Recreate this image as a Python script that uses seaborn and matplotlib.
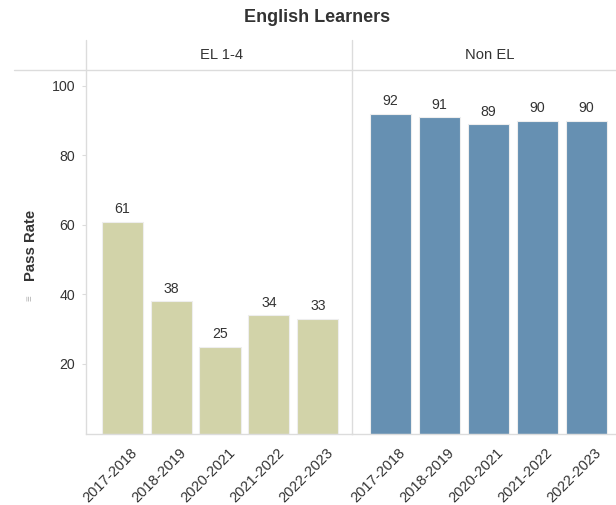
import matplotlib
matplotlib.use("Agg")
import matplotlib.pyplot as plt
from matplotlib.lines import Line2D
import matplotlib.transforms as mtrans
import seaborn as sns
import pandas as pd

# Pass rates by school year for English Learner groups
years = ["2017-2018", "2018-2019", "2020-2021", "2021-2022", "2022-2023"]
groups = ["EL 1-4", "Non EL"]
el_rates = [61, 38, 25, 34, 33]
non_el_rates = [92, 91, 89, 90, 90]
yticks = [20, 40, 60, 80, 100]

colors = {"EL 1-4": "#d2d3a9", "Non EL": "#6690b2"}
rates = {"EL 1-4": el_rates, "Non EL": non_el_rates}

sns.set_theme(style="white")
plt.rcParams["font.family"] = ["Liberation Sans", "DejaVu Sans"]

W, H = 616, 505
fig = plt.figure(figsize=(W / 100, H / 100), dpi=100)

def fx(px):
    return px / W

def fy(py):
    return 1 - py / H

grid_color = "#dcdcdc"
text_color = "#333333"

# panel extents in pixels: (left, right) and header centre
panels = {"EL 1-4": (86, 352), "Non EL": (352, 616)}
header_x = {"EL 1-4": 221, "Non EL": 490}
xlims = {"EL 1-4": (-0.74, 4.70), "Non EL": (-0.78, 4.61)}
top_px, bottom_px = 70, 433.5

for g in groups:
    l, r = panels[g]
    ax = fig.add_axes([fx(l), fy(bottom_px), fx(r - l), (bottom_px - top_px) / H])
    df = pd.DataFrame({"year": years, "rate": rates[g]})
    sns.barplot(data=df, x="year", y="rate", color=colors[g], saturation=1,
                width=0.84, edgecolor="#eeeeee", linewidth=0.8, ax=ax)
    ax.set_xlim(*xlims[g])
    ax.set_ylim(0, 104.6)
    for c in ax.containers:
        ax.bar_label(c, labels=[str(v) for v in rates[g]], padding=4,
                     fontsize=10.2, color=text_color)
    ax.set_xlabel("")
    ax.set_ylabel("")
    for s in ["top", "right", "left"]:
        ax.spines[s].set_visible(False)
    ax.spines["bottom"].set_color(grid_color)
    ax.spines["bottom"].set_linewidth(1)
    ax.tick_params(axis="x", length=0, pad=9, labelsize=10.5, labelcolor=text_color)
    shift = mtrans.ScaledTranslation(8 / 100, 0, fig.dpi_scale_trans)
    for lab in ax.get_xticklabels():
        lab.set_rotation(45)
        lab.set_ha("right")
        lab.set_rotation_mode("anchor")
        lab.set_transform(lab.get_transform() + shift)
    if g == "EL 1-4":
        ax.set_yticks(yticks)
        ax.set_yticklabels([str(t) for t in yticks])
        ax.tick_params(axis="y", length=3, width=0.8, color=grid_color, pad=5,
                       labelsize=10.2, labelcolor=text_color, left=True)
    else:
        ax.set_yticks([])
    ax.set_facecolor("none")
    # panel header
    fig.text(fx(header_x[g]), fy(55), g, ha="center", va="center",
             fontsize=10.6, color=text_color)

# frame lines: header separator and panel dividers
fig.add_artist(Line2D([fx(14), fx(616)], [fy(70), fy(70)], color=grid_color, lw=1))
fig.add_artist(Line2D([fx(86), fx(86)], [fy(40), fy(bottom_px)], color=grid_color, lw=1))
fig.add_artist(Line2D([fx(352), fx(352)], [fy(40), fy(bottom_px)], color=grid_color, lw=1))

fig.text(fx(317), fy(18), "English Learners", ha="center", va="center",
         fontsize=13, fontweight="bold", color=text_color)
fig.text(fx(31), fy(245), "Pass Rate", ha="center", va="center", rotation=90,
         fontsize=10.7, fontweight="bold", color=text_color)
fig.text(fx(30), fy(298), "\u2261", ha="center", va="center", rotation=90,
         fontsize=7, color="#b0b0b0")

fig.savefig("out.png", dpi=100)
